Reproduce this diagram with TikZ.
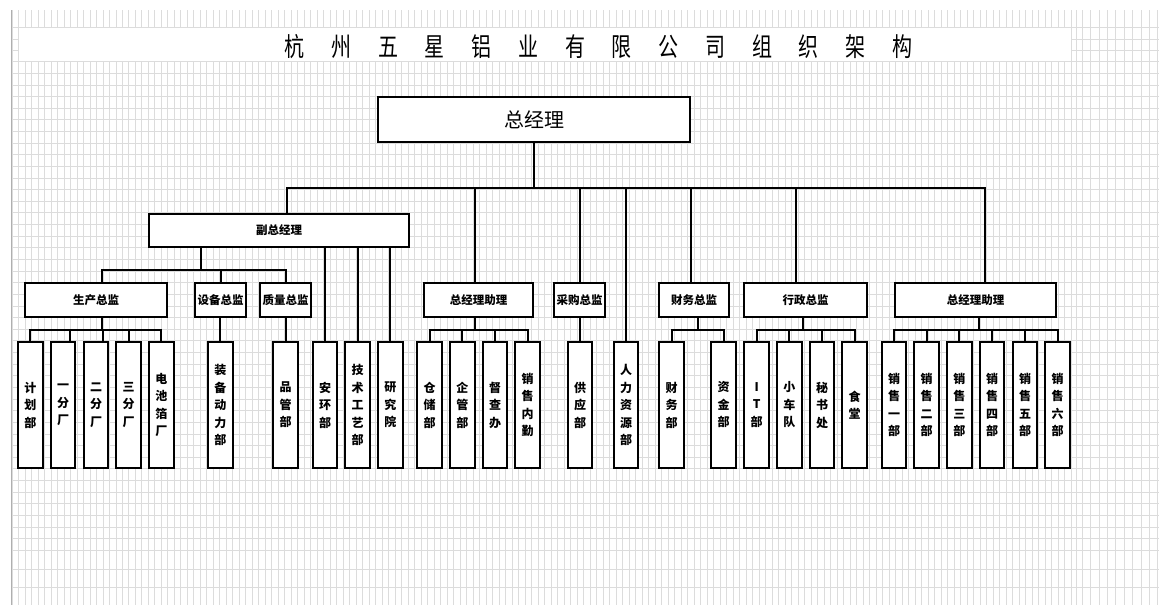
\documentclass[tikz,border=0pt]{standalone}
\usepackage{fontspec}
\newfontfamily\cjk{Noto Sans CJK SC}
\definecolor{gridc}{RGB}{220,220,220}
\definecolor{gridborder}{RGB}{175,175,175}
\newcommand\titlegap{\hspace{34.7pt}}
\begin{document}
\begin{tikzpicture}[x=1pt,y=-1pt,
  gridl/.style={draw=gridc, line width=0.9pt},
  box/.style={draw=black, line width=2pt, fill=white, inner sep=0pt, align=center},
  lab/.style={box, minimum height=34pt, font=\cjk\bfseries\fontsize{11.5}{14}\selectfont},
  leaf/.style={box, minimum width=24.5pt, minimum height=126pt, font=\cjk\bfseries\fontsize{12}{17.5}\selectfont},
  conn/.style={draw=black, line width=2pt}]
\useasboundingbox (0,0) rectangle (1159,605);
\fill[white] (0,0) rectangle (1159,605);
% spreadsheet grid
\foreach \i in {0,...,163} { \draw[gridl] ({12+6.497*\i},10) -- ({12+6.497*\i},605); }
\foreach \xx in {1076,1082.3,1090.7,1099.1,1107.5,1115.9,1124.3,1132.7,1141.1,1149.5,1157.9} { \draw[gridl] (\xx,10) -- (\xx,605); }
\foreach \yy in {27.3,38.97,50.63,569,587} { \draw[gridl] (12,\yy) -- (1159,\yy); }
\foreach \k in {0,...,42} { \draw[gridl] (12,{61.7+11.633*\k}) -- (1159,{61.7+11.633*\k}); }
\draw[draw=gridborder, line width=0.9pt] (11.5,10) -- (11.5,605);
\fill[white] (18.6,27.9) rectangle (1070.5,61.1);
% title
\node[font=\cjk\fontsize{26}{30}\selectfont, inner sep=0pt] (title) at (598.5,46.5)
  {\scalebox{0.77}[1]{杭\titlegap 州\titlegap 五\titlegap 星\titlegap 铝\titlegap 业\titlegap 有\titlegap 限\titlegap 公\titlegap 司\titlegap 组\titlegap 织\titlegap 架\titlegap 构}};
% top
\node[box, minimum width=312pt, minimum height=45pt, font=\cjk\fontsize{20}{24}\selectfont] (gm) at (534,119.5) {总经理};
\node[lab, minimum width=260pt, minimum height=33pt] (vgm) at (279,230.5) {副总经理};
% level 2
\node[lab, minimum width=142pt] (prod) at (96,300) {生产总监};
\node[lab, minimum width=51pt] (equip) at (220.5,300) {设备总监};
\node[lab, minimum width=51pt] (qual) at (285.5,300) {质量总监};
\node[lab, minimum width=109pt] (asst1) at (478.5,300) {总经理助理};
\node[lab, minimum width=51pt] (purch) at (579.5,300) {采购总监};
\node[lab, minimum width=70pt] (fin) at (694,300) {财务总监};
\node[lab, minimum width=123pt] (admin) at (805.5,300) {行政总监};
\node[lab, minimum width=161pt] (asst2) at (975.5,300) {总经理助理};
% leaves
\node[leaf] (jihua) at (30.3,405) {计\\划\\部};
\node[leaf] (yifen) at (63,405) {一\\分\\厂};
\node[leaf] (erfen) at (96,405) {二\\分\\厂};
\node[leaf] (sanfen) at (128.6,405) {三\\分\\厂};
\node[leaf] (dianchi) at (161.3,405) {电\\池\\箔\\厂};
\node[leaf] (zhuangbei) at (220.3,405) {装\\备\\动\\力\\部};
\node[leaf] (pinguan) at (285.6,405) {品\\管\\部};
\node[leaf] (anhuan) at (325,405) {安\\环\\部};
\node[leaf] (jishu) at (357.6,405) {技\\术\\工\\艺\\部};
\node[leaf] (yanjiu) at (390.3,405) {研\\究\\院};
\node[leaf] (cangchu) at (429.6,405) {仓\\储\\部};
\node[leaf] (qiguan) at (462.3,405) {企\\管\\部};
\node[leaf] (ducha) at (495,405) {督\\查\\办};
\node[leaf] (xsnq) at (527.6,405) {销\\售\\内\\勤};
\node[leaf] (gongying) at (580,405) {供\\应\\部};
\node[leaf] (hr) at (626,405) {人\\力\\资\\源\\部};
\node[leaf] (caiwu) at (671.6,405) {财\\务\\部};
\node[leaf] (zijin) at (723.6,405) {资\\金\\部};
\node[leaf] (it) at (756.6,405) {I\\T\\部};
\node[leaf] (xiaoche) at (789.3,405) {小\\车\\队};
\node[leaf] (mishu) at (822,405) {秘\\书\\处};
\node[leaf] (shitang) at (854.6,405) {食\\堂};
\node[leaf] (xs1) at (894,405) {销\\售\\一\\部};
\node[leaf] (xs2) at (926.6,405) {销\\售\\二\\部};
\node[leaf] (xs3) at (959.3,405) {销\\售\\三\\部};
\node[leaf] (xs4) at (992,405) {销\\售\\四\\部};
\node[leaf] (xs5) at (1025,405) {销\\售\\五\\部};
\node[leaf] (xs6) at (1057.6,405) {销\\售\\六\\部};
% connectors: top level
\draw[conn] (gm.south) -- ++(0,44.5) coordinate (busA);
\foreach \t/\dx in {vgm/8, asst1/-3.5, purch/0, hr/0, fin/-3, admin/-9.8, asst2/9.5}
  { \draw[conn] (busA) -| ([xshift=\dx pt]\t.north); }
% deputy GM
\draw[conn] ([xshift=-78pt]vgm.south) -- ++(0,22) coordinate (busB);
\draw[conn] (busB) -| ([xshift=6pt]prod.north);
\draw[conn] (busB) -| (equip.north);
\draw[conn] (busB) -| (qual.north);
\foreach \t in {anhuan, jishu, yanjiu} { \draw[conn] (\t.north) -- (\t.north |- vgm.south); }
% production
\draw[conn] ([xshift=6pt]prod.south) -- ++(0,12) coordinate (busP);
\foreach \t/\dx in {jihua/0, yifen/6.7, erfen/6.7, sanfen/0, dianchi/0}
  { \draw[conn] (busP) -| ([xshift=\dx pt]\t.north); }
\draw[conn] (zhuangbei.north) -- (zhuangbei.north |- equip.south);
\draw[conn] (pinguan.north) -- (pinguan.north |- qual.south);
% assistant 1
\draw[conn] ([xshift=-3.5pt]asst1.south) -- ++(0,12) coordinate (busQ);
\foreach \t in {cangchu, qiguan, ducha, xsnq} { \draw[conn] (busQ) -| (\t.north); }
\draw[conn] (gongying.north) -- (gongying.north |- purch.south);
% finance
\draw[conn] ([xshift=3.7pt]fin.south) -- ++(0,12) coordinate (busF);
\foreach \t in {caiwu, zijin} { \draw[conn] (busF) -| (\t.north); }
% admin
\draw[conn] ([xshift=-2.8pt]admin.south) -- ++(0,12) coordinate (busG);
\foreach \t in {it, xiaoche, mishu, shitang} { \draw[conn] (busG) -| (\t.north); }
% assistant 2
\draw[conn] ([xshift=3.5pt]asst2.south) -- ++(0,12) coordinate (busH);
\foreach \t in {xs1, xs2, xs3, xs4, xs5, xs6} { \draw[conn] (busH) -| (\t.north); }
\end{tikzpicture}
\end{document}
